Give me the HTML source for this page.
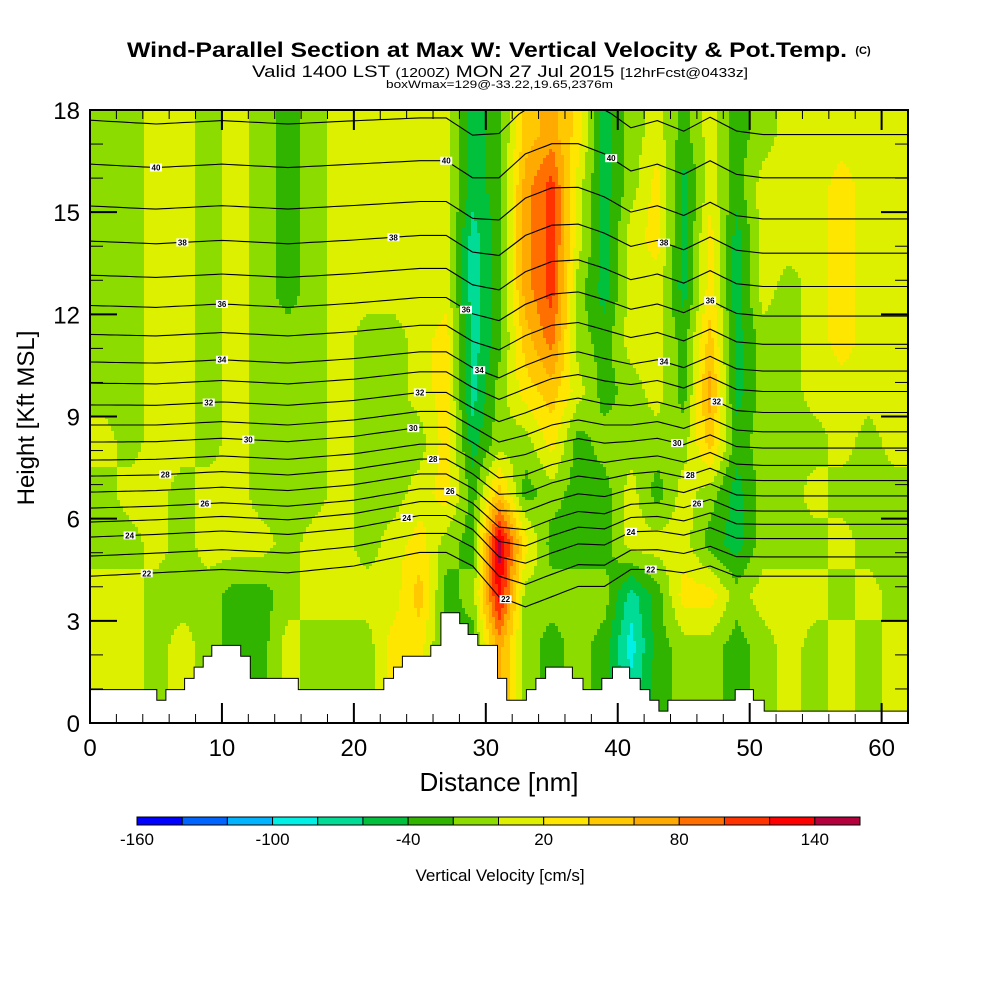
<!DOCTYPE html>
<html><head><meta charset="utf-8"><style>
html,body{margin:0;padding:0;background:#fff;}
svg{display:block;font-family:"Liberation Sans",sans-serif;}
</style></head><body>
<svg id="chart" width="1000" height="1000" viewBox="0 0 1000 1000" xmlns="http://www.w3.org/2000/svg">
<rect x="0" y="0" width="1000" height="1000" fill="#fff"/>
<text x="127" y="57" font-size="21" font-weight="bold" textLength="720" lengthAdjust="spacingAndGlyphs">Wind-Parallel Section at Max W: Vertical Velocity &amp; Pot.Temp.</text>
<text x="863" y="54" text-anchor="middle" font-size="11" font-weight="bold">(C)</text>
<text x="252" y="77" font-size="17" textLength="496" lengthAdjust="spacingAndGlyphs">Valid 1400 LST <tspan font-size="13">(1200Z)</tspan> MON 27 Jul 2015 <tspan font-size="13">[12hrFcst@0433z]</tspan></text>
<text x="386" y="88" font-size="11" textLength="227" lengthAdjust="spacingAndGlyphs">boxWmax=129@-33.22,19.65,2376m</text>
<g id="field"></g>
<g id="isen"></g>
<g id="terrain"></g>
<g id="labels"></g>
<g id="axes"></g>
<text x="499" y="791" text-anchor="middle" font-size="26">Distance [nm]</text>
<text transform="translate(34,418) rotate(-90)" text-anchor="middle" font-size="24">Height [Kft MSL]</text>
<g id="cbar"></g>
<text x="500" y="881" text-anchor="middle" font-size="17">Vertical Velocity [cm/s]</text>
</svg>
<script>
// ---- data ----
const colNm = [1,3,5,7,9,11,13,15,17,19,21,23,25,27,29,31,33,35,37,39,41,43,45,47,49,51,53,55,57,59,61];
const rowKft = [17.25,15.75,14.25,12.75,11.25,9.75,8.25,6.75,5.25,3.75,2.25,0.75];
const wRow0 = [-10,-10,10,10,-10,10,-10,-30,-10,10,10,10,10,10,-50,-30,50,70,30,-50,-10,10,-30,10,-30,-10,10,10,10,10,10];
const wRow1 = [-10,-10,10,10,-10,10,-10,-30,-10,10,10,10,10,10,-50,-30,70,110,10,-50,-10,30,-50,10,-30,10,10,10,30,10,10];
const wRow2 = [-10,-10,10,10,-10,10,-10,-30,-10,10,10,10,10,10,-70,-30,70,110,10,-50,10,30,-50,30,-50,10,10,10,30,10,10];
const wRow3 = [-10,-10,10,10,-10,10,-10,-30,-10,10,10,10,10,10,-70,-30,70,110,-10,-50,10,10,-50,30,-50,10,-10,10,30,10,10];
const wRow4 = [-10,-10,10,10,-10,10,-10,-10,-10,10,-10,-10,10,30,-70,-30,50,90,-10,-30,10,10,-30,50,-50,-10,-10,10,30,10,10];
const wRow5 = [-10,-10,10,10,-10,10,-10,-10,-10,10,-10,-10,10,30,-70,-10,30,50,10,-30,-10,10,-30,70,-50,-10,-10,10,10,10,10];
const wRow6 = [10,-10,10,10,-10,10,-10,-10,-10,10,-10,-10,-10,30,-50,-10,-10,30,-30,-10,-10,-10,-10,50,-30,-10,-10,-10,10,-10,10];
const wRow7 = [-10,10,10,-10,10,10,-10,-10,-10,10,-10,-10,10,30,-30,50,-30,-10,-30,-30,10,-30,10,-10,-50,-10,-10,10,-10,-10,-10];
const wRow8 = [-10,-10,10,-10,10,10,10,-10,10,10,-10,10,30,-10,-30,150,30,-30,-30,-30,10,10,10,-30,-50,-10,-10,-10,10,-10,-10];
const wRow9 = [10,10,-10,-10,-10,-30,-30,-10,10,10,10,10,50,-30,-10,130,-10,-10,-10,-10,-70,-30,30,30,-10,10,10,10,-10,10,-10];
const wRow10 = [10,10,-10,10,-10,-30,-30,10,-10,-10,-10,30,30,-30,-30,70,-10,-30,-10,-30,-90,-30,-10,-10,-30,-10,10,-10,10,-10,10];
const wRow11 = [10,10,-10,10,-10,-30,-30,10,-10,-10,-10,30,30,-30,-30,70,-10,-30,-10,-30,-70,-30,-10,-10,-30,-10,10,-10,10,-10,10];
const wGrid = [wRow0,wRow1,wRow2,wRow3,wRow4,wRow5,wRow6,wRow7,wRow8,wRow9,wRow10,wRow11];

const thetaLevels = [22,23,24,25,26,27,28,29,30,31,32,33,34,35,36,37,38,39,40,41];
const thetaBaseKft = [4.31,4.9,5.46,5.9,6.31,6.78,7.25,7.72,8.25,8.75,9.34,9.98,10.6,11.41,12.26,13.15,14.15,15.18,16.41,17.7];
const dispNm = [0,5,10,15,20,25,27,29,31,33,35,37,39,41,43,45,47,49,51,55,62];
const dispLow = [0,0.1,0.2,0.1,0.3,0.7,0.7,0.3,-0.6,-0.9,-0.6,-0.3,-0.3,0.2,0.2,0.1,0.3,0,0,0,0];
const dispHigh = [0,-0.1,0,-0.1,0,0.1,0.1,-0.4,-0.4,0.3,0.6,0.6,0.3,-0.2,0,-0.3,0.1,-0.3,-0.4,-0.4,-0.4];
const labelLevels = [40,38,36,34,32,30,28,26,24,22,40,38,36,34,32,30,28,26,24,22,40,38,36,34,32,30,28,26,24,22];
const labelNm = [5,7,10,10,9,12,5.7,8.7,3,4.3,27,23,28.5,29.5,25,24.5,26,27.3,24,31.5,39.5,43.5,47,43.5,47.5,44.5,45.5,46,41,42.5];

const terrainNm = [0,5.06,5.75,7.17,7.89,8.58,9.23,11.42,12.15,15.79,22.27,23.0,23.68,25.83,26.6,28.02,28.66,29.39,30.89,31.58,33.08,33.8,34.53,36.56,37.37,38.79,39.6,40.9,41.7,42.43,43.12,43.8,48.9,50.28,51.1];
const terrainKft = [0.98,0.67,0.98,1.31,1.64,1.96,2.28,1.96,1.31,0.98,1.31,1.64,1.96,2.28,3.24,2.92,2.6,2.28,1.31,0.67,0.98,1.31,1.64,1.31,0.98,1.31,1.64,1.31,0.98,0.67,0.35,0.67,0.98,0.67,0.35];

const cbarColors = ["#0000ff","#0064ff","#00b4ff","#00f0e6","#00dc96","#00c03c","#30b400","#8cdc00","#dcf000","#ffe600","#ffc800","#ffaa00","#ff7000","#ff3200","#ff0000","#b4003c"];
const cbarTicks = [-160,-100,-40,20,80,140];
const xTicks = [0,10,20,30,40,50,60];
const yTicks = [0,3,6,9,12,15,18];

// ---- scales ----
const PX0=90,PX1=908,PY0=110,PY1=723;
const X = nm => PX0 + nm*(PX1-PX0)/62;
const Y = k => PY1 - k*(PY1-PY0)/18;
const NS="http://www.w3.org/2000/svg";
function mk(tag, attrs, parent){const e=document.createElementNS(NS,tag);for(const k in attrs)e.setAttribute(k,attrs[k]);parent.appendChild(e);return e;}
function colorOf(v){let b=Math.floor((v+160)/20);b=Math.max(0,Math.min(15,b));return cbarColors[b];}
function interp1(xs,ys,x){if(x<=xs[0])return ys[0];for(let i=1;i<xs.length;i++){if(x<=xs[i]){const t=(x-xs[i-1])/(xs[i]-xs[i-1]);return ys[i-1]+t*(ys[i]-ys[i-1]);}}return ys[ys.length-1];}
function wAt(nm,k){
  let fc=(nm-colNm[0])/2; fc=Math.max(0,Math.min(colNm.length-1,fc));
  let fr=(rowKft[0]-k)/1.5; fr=Math.max(0,Math.min(rowKft.length-1,fr));
  const c0=Math.floor(fc),c1=Math.min(c0+1,colNm.length-1),r0=Math.floor(fr),r1=Math.min(r0+1,rowKft.length-1);
  const tc=fc-c0,tr=fr-r0;
  const a=wGrid[r0][c0]*(1-tc)+wGrid[r0][c1]*tc, b=wGrid[r1][c0]*(1-tc)+wGrid[r1][c1]*tc;
  return a*(1-tr)+b*tr;
}
// ---- field ----
const field=document.getElementById('field');
const step=3;
function flushRun(x0,x1,py,h,col){
  if(col===null||x1<=x0)return;
  const r=mk('rect',{x:x0,y:py,width:x1-x0,height:h,fill:col},field);
  
  
}
for(let py=PY0;py<PY1;py+=step){
  const h=Math.min(step,PY1-py);
  const k=(PY1-(py+h/2))*18/(PY1-PY0);
  let runStart=PX0,runCol=null;
  for(let px=PX0;px<PX1;px+=step){
    const nm=(Math.min(px+step/2,PX1)-PX0)*62/(PX1-PX0);
    const col=colorOf(wAt(nm,k));
    if(col!==runCol){flushRun(runStart,px,py,h,runCol);runStart=px;runCol=col;}
  }
  flushRun(runStart,PX1,py,h,runCol);
}
// ---- isentropes ----
const isen=document.getElementById('isen');
function thetaH(i,nm){const w=(thetaLevels[i]-22)/18;return thetaBaseKft[i]+(1-w)*interp1(dispNm,dispLow,nm)+w*interp1(dispNm,dispHigh,nm);}
thetaLevels.forEach((L,i)=>{
  let d='';
  for(let nm=0;nm<=62.001;nm+=0.5){const yy=Math.max(PY0,Y(thetaH(i,nm)));d+=(nm===0?'M':'L')+X(nm).toFixed(1)+','+yy.toFixed(1);}
  const p=mk('path',{d:d,fill:'none',stroke:'#000','stroke-width':1.1},isen);
  
  
});
// ---- terrain ----
const ter=document.getElementById('terrain');
let td='M'+X(0)+','+Y(0);
terrainNm.forEach((nm,i)=>{const nx=i+1<terrainNm.length?terrainNm[i+1]:62;td+='L'+X(nm).toFixed(1)+','+Y(terrainKft[i]).toFixed(1)+'L'+X(nx).toFixed(1)+','+Y(terrainKft[i]).toFixed(1);});
td+='L'+X(62)+','+Y(0)+'Z';
const tp=mk('path',{d:td,fill:'#fff',stroke:'#000','stroke-width':1},ter);


// ---- labels ----
const lab=document.getElementById('labels');
labelLevels.forEach((L,j)=>{
  const i=thetaLevels.indexOf(L);const nm=labelNm[j];
  const cx=X(nm),cy=Y(thetaH(i,nm));
  const g=mk('g',{},lab);
  
  
  mk('rect',{x:cx-6,y:cy-4,width:12,height:8,fill:'#fff'},g);
  const t=mk('text',{x:cx,y:cy+3,'text-anchor':'middle','font-size':8,'font-weight':'bold'},g);
  t.textContent=L;
});
// ---- axes ----
const ax=document.getElementById('axes');
const fr=mk('rect',{x:PX0,y:PY0,width:PX1-PX0,height:PY1-PY0,fill:'none',stroke:'#000','stroke-width':2},ax);


for(let nm=0;nm<=62;nm+=2){
  const major=nm%10===0;const len=major?20:9;const x=X(nm);
  mk('line',{x1:x,y1:PY1,x2:x,y2:PY1-len,stroke:'#000','stroke-width':major?2:1},ax);
  mk('line',{x1:x,y1:PY0,x2:x,y2:PY0+len,stroke:'#000','stroke-width':major?2:1},ax);
}
for(let k=0;k<=18;k++){
  const major=k%3===0;const len=major?27:13;const y=Y(k);
  mk('line',{x1:PX0,y1:y,x2:PX0+len,y2:y,stroke:'#000','stroke-width':major?2:1},ax);
  mk('line',{x1:PX1,y1:y,x2:PX1-len,y2:y,stroke:'#000','stroke-width':major?2:1},ax);
}
xTicks.forEach(v=>{const t=mk('text',{x:X(v),y:756,'text-anchor':'middle','font-size':24},ax);t.textContent=v;
  
  });
yTicks.forEach(v=>{const t=mk('text',{x:80,y:Y(v)+9,'text-anchor':'end','font-size':24},ax);t.textContent=v;
  
  });
// ---- colorbar ----
const cb=document.getElementById('cbar');
const CB0=137,CB1=860,bw=(CB1-CB0)/16;
cbarColors.forEach((c,i)=>{
  const r=mk('rect',{x:CB0+i*bw,y:817,width:bw,height:8,fill:c,stroke:'#000','stroke-width':1},cb);
  
  
});
cbarTicks.forEach(v=>{const t=mk('text',{x:CB0+(v+160)/20*bw,y:845,'text-anchor':'middle','font-size':17},cb);t.textContent=v;
  
  });
</script>
</body></html>
